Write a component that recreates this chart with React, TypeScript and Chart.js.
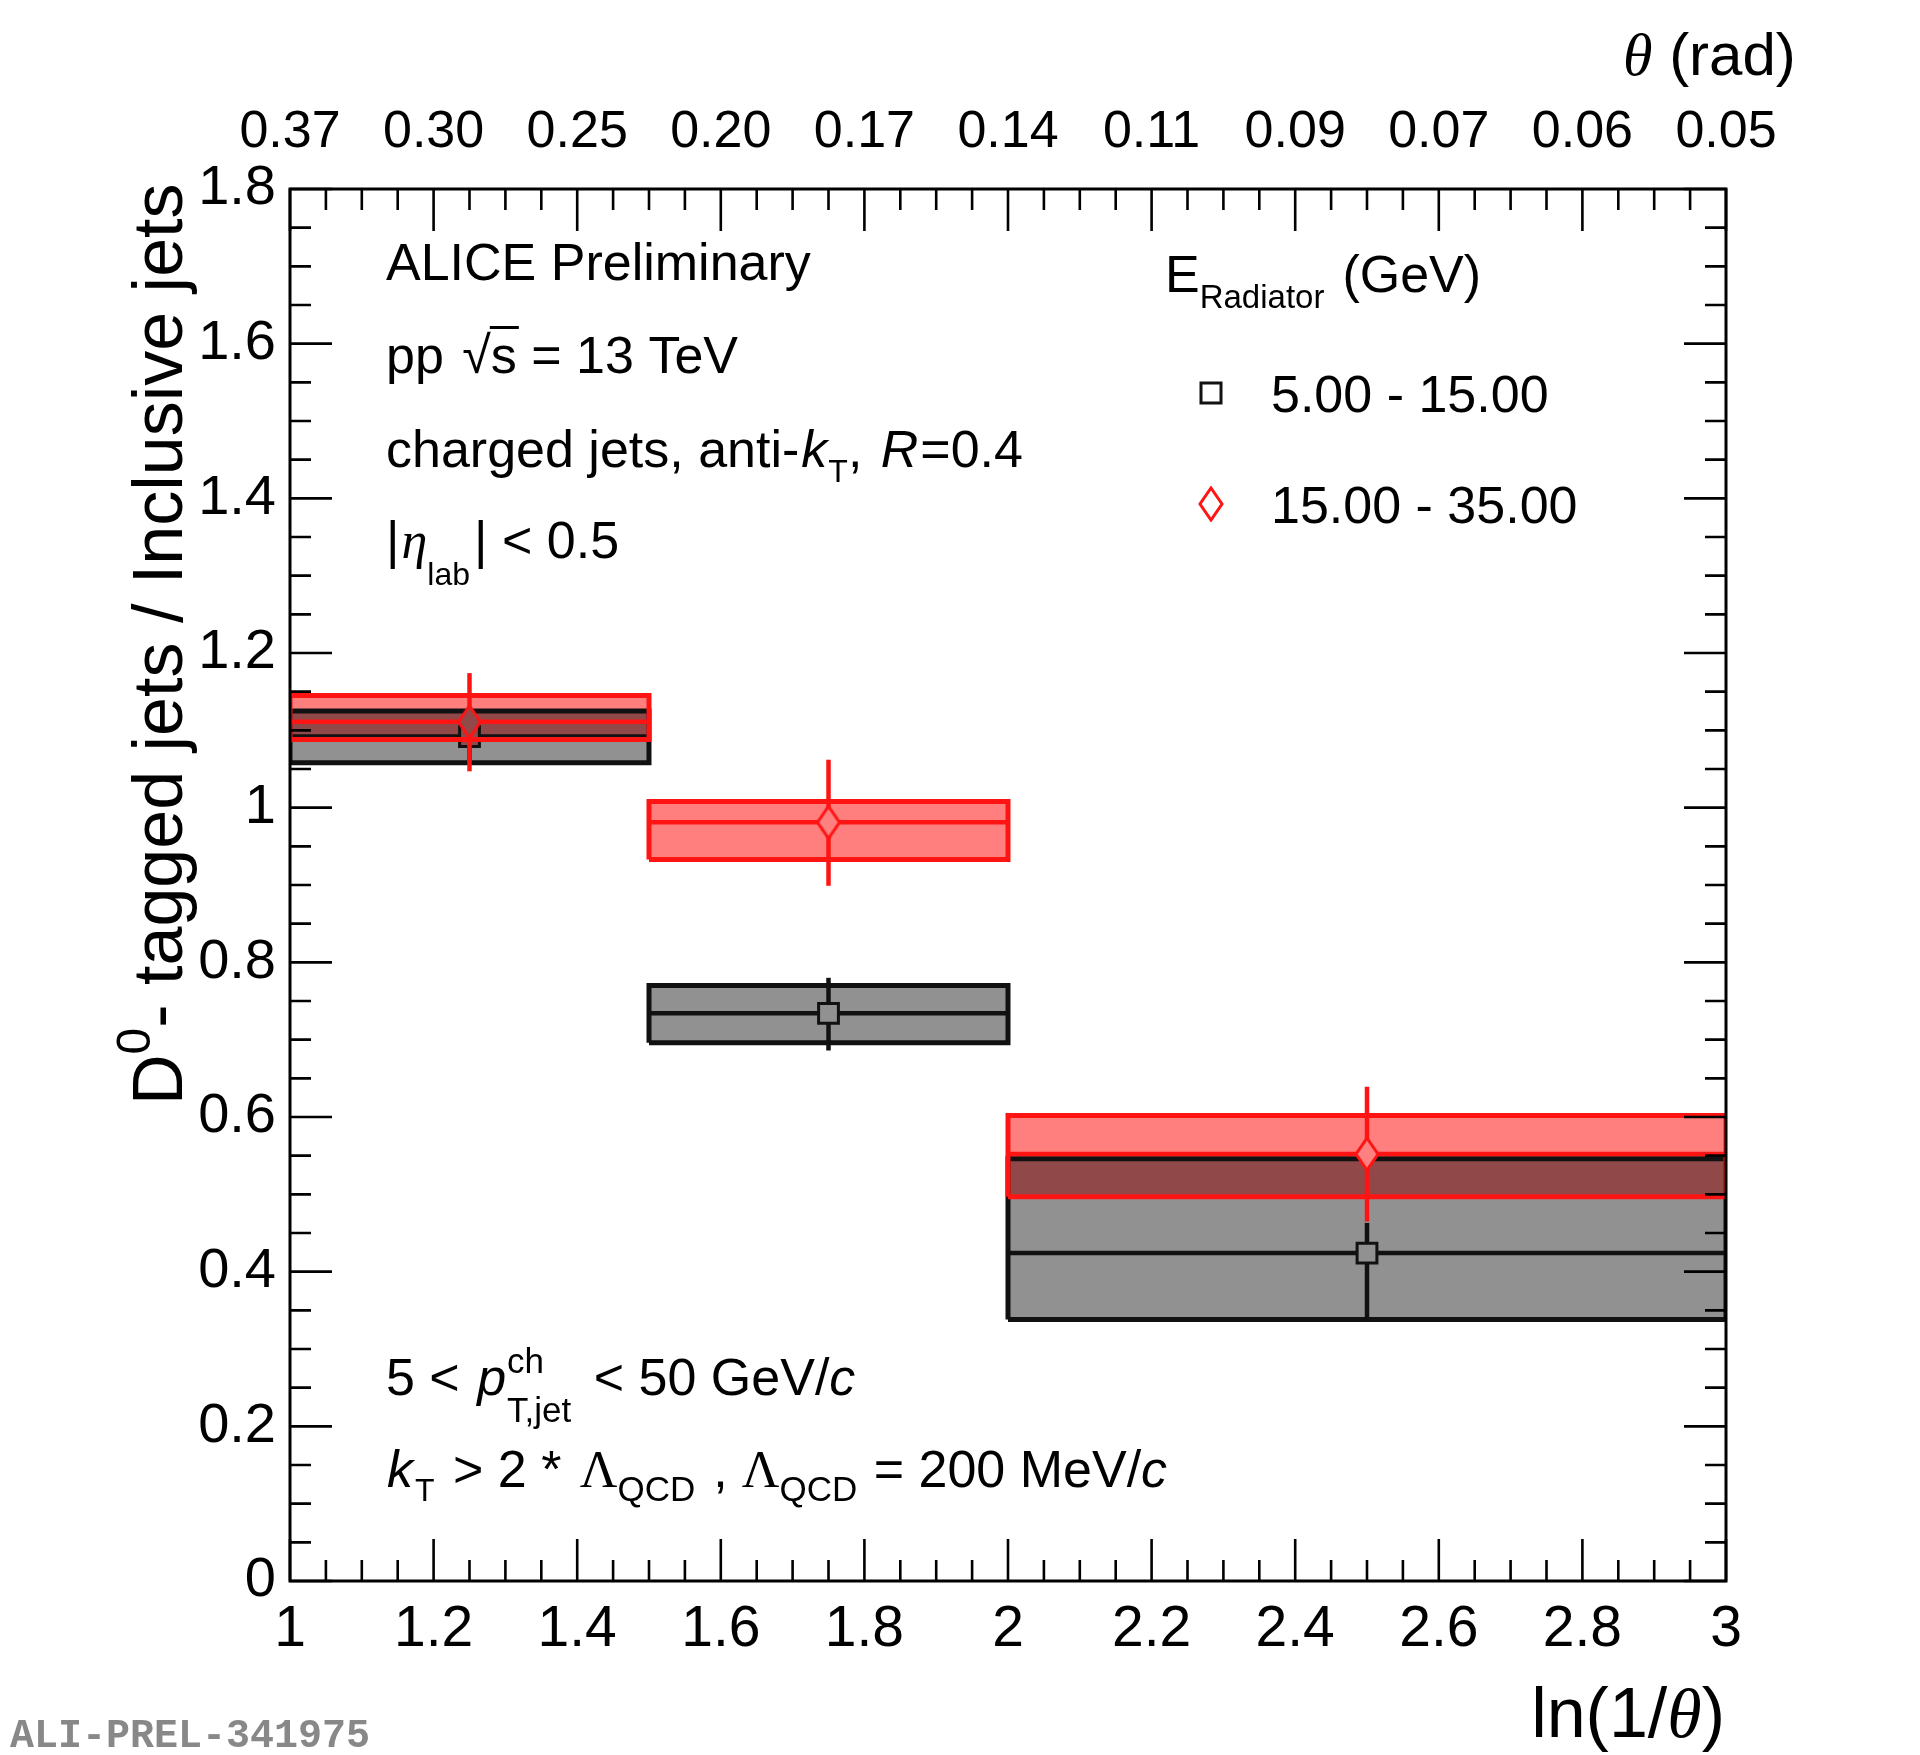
import React, { useEffect, useRef } from 'react';
import { Chart, registerables } from 'chart.js';

Chart.register(...registerables);

const SANS = '"Liberation Sans", Arial, Helvetica, sans-serif';
const SERIF = '"Liberation Serif", "Times New Roman", serif';
const MONO = '"Liberation Mono", "Courier New", monospace';

// ln(1/theta) bins
const binLow = [1.0, 1.5, 2.0];
const binHigh = [1.5, 2.0, 3.0];
const binCenter = [1.25, 1.75, 2.5];

// E_Radiator 5-15 GeV (black squares)
const lowE = [1.092, 0.734, 0.424];
const lowEStatUp = [0.03, 0.046, 0.039];
const lowEStatDown = [0.03, 0.048, 0.086];
const lowESysLow = [1.058, 0.696, 0.338];
const lowESysHigh = [1.125, 0.77, 0.546];

// E_Radiator 15-35 GeV (red diamonds)
const highE = [1.111, 0.981, 0.552];
const highEStatUp = [0.063, 0.081, 0.087];
const highEStatDown = [0.064, 0.082, 0.087];
const highESysLow = [1.088, 0.933, 0.497];
const highESysHigh = [1.145, 1.008, 0.602];

const seriesLabels = ['5.00 - 15.00', '15.00 - 35.00'];

const xTickValues = [1, 1.2, 1.4, 1.6, 1.8, 2, 2.2, 2.4, 2.6, 2.8, 3];
const xTickLabels = ['1', '1.2', '1.4', '1.6', '1.8', '2', '2.2', '2.4', '2.6', '2.8', '3'];
const thetaTickLabels = ['0.37', '0.30', '0.25', '0.20', '0.17', '0.14', '0.11', '0.09', '0.07', '0.06', '0.05'];
const yTickValues = [0, 0.2, 0.4, 0.6, 0.8, 1, 1.2, 1.4, 1.6, 1.8];
const yTickLabels = ['0', '0.2', '0.4', '0.6', '0.8', '1', '1.2', '1.4', '1.6', '1.8'];

const BLACK = '#111111';
const RED = '#ff1414';
const RED_FILL = 'rgba(255,0,0,0.5)';
const GRAY_FILL = 'rgba(0,0,0,0.43)';
// solid colours of the regions the markers sit on (hides lines behind the marker)
const lowMarkerFill = ['#914949', '#919191', '#919191'];
const highMarkerFill = ['#914949', '#ff8080', '#ff8080'];

type Seg = { t: string; size?: number; italic?: boolean; family?: string; dy?: number; dx?: number; keep?: boolean };

function richText(ctx: CanvasRenderingContext2D, x: number, y: number, segs: Seg[], dry = false) {
  let cx = x;
  let held = 0;
  for (const s of segs) {
    ctx.font = `${s.italic ? 'italic ' : ''}${s.size ?? 52}px ${s.family ?? SANS}`;
    cx += s.dx ?? 0;
    if (!dry) ctx.fillText(s.t, cx, y + (s.dy ?? 0));
    const w = ctx.measureText(s.t).width;
    if (s.keep) {
      held = Math.max(held, w);
    } else {
      cx += Math.max(w, held);
      held = 0;
    }
  }
  return cx - x;
}

function diamond(fill: string) {
  const c = document.createElement('canvas');
  c.width = 26;
  c.height = 36;
  const g = c.getContext('2d')!;
  g.beginPath();
  g.moveTo(13, 2);
  g.lineTo(24, 18);
  g.lineTo(13, 34);
  g.lineTo(2, 18);
  g.closePath();
  g.fillStyle = fill;
  g.fill();
  g.strokeStyle = RED;
  g.lineWidth = 3;
  g.stroke();
  return c;
}

const boxPoints = (i: number, lo: number[], hi: number[]) => [
  { x: binLow[i], y: lo[i] },
  { x: binHigh[i], y: lo[i] },
  { x: binHigh[i], y: hi[i] },
  { x: binLow[i], y: hi[i] },
  { x: binLow[i], y: lo[i] },
];

const lineSet = (data: { x: number; y: number }[], color: string, width: number) => ({
  data,
  borderColor: color,
  borderWidth: width,
  borderCapStyle: 'butt',
  pointRadius: 0,
  fill: false,
  showLine: true,
  tension: 0,
});

// ROOT style frame with inward ticks
const axesPlugin = {
  id: 'rootAxes',
  afterDraw(chart: any) {
    const { ctx, chartArea: a, scales } = chart;
    const sx = scales.x;
    const sy = scales.y;
    const major = 42;
    const minor = 21;
    ctx.save();
    ctx.strokeStyle = '#000';
    ctx.lineWidth = 2.6;
    ctx.beginPath();
    for (let i = 0; i <= 40; i++) {
      const px = sx.getPixelForValue(1 + i * 0.05);
      const len = i % 4 === 0 ? major : minor;
      ctx.moveTo(px, a.bottom);
      ctx.lineTo(px, a.bottom - len);
      ctx.moveTo(px, a.top);
      ctx.lineTo(px, a.top + len);
    }
    for (let i = 0; i <= 36; i++) {
      const py = sy.getPixelForValue(i * 0.05);
      const len = i % 4 === 0 ? major : minor;
      ctx.moveTo(a.left, py);
      ctx.lineTo(a.left + len, py);
      ctx.moveTo(a.right, py);
      ctx.lineTo(a.right - len, py);
    }
    ctx.stroke();
    ctx.lineWidth = 3;
    ctx.strokeRect(a.left, a.top, a.right - a.left, a.bottom - a.top);
    ctx.restore();
  },
};

const textPlugin = {
  id: 'rootText',
  afterDraw(chart: any) {
    const ctx: CanvasRenderingContext2D = chart.ctx;
    ctx.save();
    ctx.fillStyle = '#000';
    ctx.textBaseline = 'alphabetic';
    ctx.textAlign = 'left';

    // y title, rotated
    ctx.save();
    ctx.translate(182, 1105);
    ctx.rotate(-Math.PI / 2);
    richText(ctx, 0, 0, [
      { t: 'D', size: 70 },
      { t: '0', size: 48, dy: -32 },
      { t: '- tagged jets / Inclusive jets', size: 70 },
    ]);
    ctx.restore();

    // x title (right aligned)
    const xTitle: Seg[] = [
      { t: 'ln(1/', size: 70 },
      { t: 'θ', size: 70, italic: true, family: SERIF },
      { t: ')', size: 70 },
    ];
    const xw = richText(ctx, 0, 0, xTitle, true);
    richText(ctx, 1725 - xw, 1737, xTitle);

    // top axis title
    richText(ctx, 1623, 75, [
      { t: 'θ', size: 60, italic: true, family: SERIF },
      { t: ' (rad)', size: 60 },
    ]);

    // labels, upper left
    richText(ctx, 386, 280, [{ t: 'ALICE Preliminary' }]);
    const sq = richText(ctx, 386, 373, [{ t: 'pp ' }, { t: '√', dx: 4 }]);
    const sw = richText(ctx, 386 + sq, 373, [{ t: 's' }]);
    ctx.fillRect(386 + sq - 1, 326, sw + 3, 3);
    richText(ctx, 386 + sq + sw, 373, [{ t: ' = 13 TeV' }]);
    richText(ctx, 386, 467, [
      { t: 'charged jets, anti-' },
      { t: 'k', italic: true, dx: 2 },
      { t: 'T', size: 32, dy: 15, dx: 1 },
      { t: ', ' },
      { t: 'R', italic: true, dx: 4 },
      { t: '=0.4', dx: 2 },
    ]);
    richText(ctx, 386, 558, [
      { t: '|' },
      { t: 'η', italic: true, family: SERIF, dx: 2 },
      { t: 'lab', size: 32, dy: 27 },
      { t: '|', dx: 4 },
      { t: ' < 0.5' },
    ]);

    // labels, lower left
    richText(ctx, 386, 1395, [
      { t: '5 < ' },
      { t: 'p', italic: true, dx: 3 },
      { t: 'ch', size: 35, dy: -22, keep: true, dx: 1 },
      { t: 'T,jet', size: 35, dy: 27 },
      { t: ' < 50 GeV/', dx: 8 },
      { t: 'c', italic: true },
    ]);
    richText(ctx, 387, 1487, [
      { t: 'k', italic: true },
      { t: 'T', size: 32, dy: 14, dx: 2 },
      { t: ' > 2 * ', dx: 4 },
      { t: 'Λ', family: SERIF, dx: 4 },
      { t: 'QCD', size: 35, dy: 14 },
      { t: ',', dx: 18 },
      { t: 'Λ', family: SERIF, dx: 14 },
      { t: 'QCD', size: 35, dy: 14 },
      { t: ' = 200 MeV/', dx: 2 },
      { t: 'c', italic: true },
    ]);

    // legend
    const eW = richText(ctx, 1165, 292, [{ t: 'E' }, { t: 'Radiator', size: 33, dy: 16 }]);
    richText(ctx, 1165 + eW + 18, 292, [{ t: '(GeV)' }]);
    ctx.strokeStyle = BLACK;
    ctx.lineWidth = 3;
    ctx.strokeRect(1201, 383, 20, 20);
    richText(ctx, 1271, 412, [{ t: seriesLabels[0] }]);
    ctx.drawImage(diamond('rgba(0,0,0,0)'), 1211 - 13, 504 - 18);
    richText(ctx, 1271, 523, [{ t: seriesLabels[1] }]);

    // preliminary id
    ctx.fillStyle = '#888888';
    ctx.font = `bold 40px ${MONO}`;
    ctx.fillText('ALI-PREL-341975', 10, 1747);
    ctx.restore();
  },
};

export default function App() {
  const canvasRef = useRef<HTMLCanvasElement>(null);
  const chartRef = useRef<Chart | null>(null);

  useEffect(() => {
    if (!canvasRef.current) return;
    if (chartRef.current) chartRef.current.destroy();

    const layers: any[][] = [
      binCenter.map((_, i) => ({
        ...lineSet(boxPoints(i, highESysLow, highESysHigh), 'rgba(0,0,0,0)', 0),
        fill: 'shape',
        backgroundColor: RED_FILL,
      })),
      binCenter.map((_, i) => ({
        ...lineSet(boxPoints(i, lowESysLow, lowESysHigh), BLACK, 5),
        fill: 'shape',
        backgroundColor: GRAY_FILL,
        borderJoinStyle: 'miter',
      })),
      binCenter.map((_, i) => lineSet([{ x: binLow[i], y: lowE[i] }, { x: binHigh[i], y: lowE[i] }], BLACK, 4.5)),
      binCenter.map((c, i) =>
        lineSet([{ x: c, y: lowE[i] - lowEStatDown[i] }, { x: c, y: lowE[i] + lowEStatUp[i] }], BLACK, 4.5),
      ),
      [
        {
          label: seriesLabels[0],
          data: binCenter.map((c, i) => ({ x: c, y: lowE[i] })),
          showLine: false,
          pointStyle: 'rect',
          pointRadius: 14,
          pointBackgroundColor: lowMarkerFill,
          pointBorderColor: BLACK,
          pointBorderWidth: 3,
        },
      ],
      binCenter.map((_, i) => ({
        ...lineSet(boxPoints(i, highESysLow, highESysHigh), RED, 5),
        borderJoinStyle: 'miter',
      })),
      binCenter.map((_, i) => lineSet([{ x: binLow[i], y: highE[i] }, { x: binHigh[i], y: highE[i] }], RED, 4.5)),
      binCenter.map((c, i) =>
        lineSet([{ x: c, y: highE[i] - highEStatDown[i] }, { x: c, y: highE[i] + highEStatUp[i] }], RED, 4.5),
      ),
      [
        {
          label: seriesLabels[1],
          data: binCenter.map((c, i) => ({ x: c, y: highE[i] })),
          showLine: false,
          pointStyle: highMarkerFill.map((f) => diamond(f)),
          pointRadius: 14,
        },
      ],
    ];
    const datasets: any[] = [];
    layers.forEach((group, li) => group.forEach((d) => datasets.push({ ...d, order: layers.length - li })));

    const font = (size: number) => ({ family: SANS, size });

    chartRef.current = new Chart(canvasRef.current, {
      type: 'line',
      data: { datasets },
      plugins: [axesPlugin, textPlugin],
      options: {
        animation: false,
        responsive: true,
        maintainAspectRatio: false,
        devicePixelRatio: 1,
        events: [],
        layout: { padding: { left: 0, right: 194, top: 0, bottom: 0 } },
        plugins: {
          legend: { display: false },
          tooltip: { enabled: false },
        },
        scales: {
          x: {
            type: 'linear',
            position: 'bottom',
            min: 1,
            max: 3,
            grid: { display: false },
            border: { display: false },
            afterBuildTicks: (s: any) => {
              s.ticks = xTickValues.map((v) => ({ value: v }));
            },
            afterFit: (s: any) => {
              s.height = 174;
              s.paddingLeft = 0;
              s.paddingRight = 0;
            },
            ticks: {
              autoSkip: false,
              maxRotation: 0,
              minRotation: 0,
              padding: 7,
              color: '#000',
              font: font(57),
              callback: (_v: any, i: number) => xTickLabels[i],
            },
          },
          x2: {
            type: 'linear',
            position: 'top',
            min: 1,
            max: 3,
            grid: { display: false },
            border: { display: false },
            afterBuildTicks: (s: any) => {
              s.ticks = xTickValues.map((v) => ({ value: v }));
            },
            afterFit: (s: any) => {
              s.height = 189;
              s.paddingLeft = 0;
              s.paddingRight = 0;
            },
            ticks: {
              autoSkip: false,
              maxRotation: 0,
              minRotation: 0,
              padding: 17,
              color: '#000',
              font: font(52),
              callback: (_v: any, i: number) => thetaTickLabels[i],
            },
          },
          y: {
            type: 'linear',
            position: 'left',
            min: 0,
            max: 1.8,
            grid: { display: false },
            border: { display: false },
            afterBuildTicks: (s: any) => {
              s.ticks = yTickValues.map((v) => ({ value: v }));
            },
            afterFit: (s: any) => {
              s.width = 290;
              s.paddingTop = 0;
              s.paddingBottom = 0;
            },
            ticks: {
              autoSkip: false,
              padding: 6,
              color: '#000',
              font: font(56),
              callback: (_v: any, i: number) => yTickLabels[i],
            },
          },
        },
      } as any,
    });

    return () => {
      if (chartRef.current) {
        chartRef.current.destroy();
        chartRef.current = null;
      }
    };
  }, []);

  return (
    <div style={{ position: 'absolute', left: 0, top: 0, width: 1920, height: 1755, overflow: 'hidden', background: '#fff' }}>
      <canvas ref={canvasRef}></canvas>
    </div>
  );
}
